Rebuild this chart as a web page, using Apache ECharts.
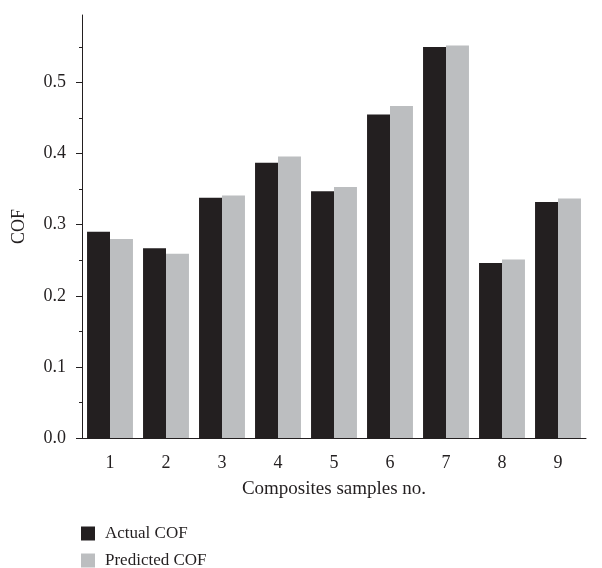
<!DOCTYPE html>
<html>
<head>
<meta charset="utf-8">
<script src="https://cdn.jsdelivr.net/npm/echarts@6/dist/echarts.min.js"></script>
<style>html,body{margin:0;padding:0;background:#fff}#c{width:602px;height:568px}</style>
</head>
<body>
<div id="c"></div>
<script>
var categories = ['1', '2', '3', '4', '5', '6', '7', '8', '9'];
var actualCOF = [0.290, 0.267, 0.338, 0.387, 0.347, 0.455, 0.550, 0.246, 0.332];
var predictedCOF = [0.280, 0.259, 0.341, 0.396, 0.353, 0.467, 0.552, 0.251, 0.337];
var yMajorTicks = [0, 0.1, 0.2, 0.3, 0.4, 0.5];
var yMinorTicks = [0.05, 0.15, 0.25, 0.35, 0.45, 0.55];
var seriesNames = ['Actual COF', 'Predicted COF'];

var ink = '#231f20';
var font = '"Liberation Serif", "DejaVu Serif", serif';
var chart = echarts.init(document.getElementById('c'), null, {renderer: 'canvas'});
function legendFor(name, top) {
  return {
    orient: 'vertical', left: 81, top: top, itemWidth: 14, itemHeight: 14, itemGap: 8,
    icon: 'rect', data: [name], padding: 0,
    textStyle: {fontFamily: font, fontSize: 17, color: ink, padding: [0, 0, 0, 5]}
  };
}
chart.setOption({
  animation: false,
  backgroundColor: '#fff',
  grid: {left: 82, right: 16, top: 15, bottom: 130, containLabel: false},
  legend: [legendFor(seriesNames[0], 525), legendFor(seriesNames[1], 552)],
  xAxis: [{
    type: 'category', data: categories, boundaryGap: true,
    name: 'Composites samples no.', nameLocation: 'middle', nameGap: 42,
    nameTextStyle: {fontFamily: font, fontSize: 19, color: ink},
    axisLine: {lineStyle: {color: ink, width: 1}},
    axisTick: {alignWithLabel: true, length: 6, lineStyle: {color: ink}},
    axisLabel: {fontFamily: font, fontSize: 18, color: ink, margin: 16}
  }, {
    type: 'category', data: categories, boundaryGap: true, position: 'bottom',
    axisLine: {show: false},
    axisTick: {length: 4, lineStyle: {color: ink}},
    axisLabel: {show: false}
  }],
  yAxis: [{
    type: 'value', min: 0, max: 0.595,
    name: 'COF', nameLocation: 'middle', nameGap: 54,
    nameTextStyle: {fontFamily: font, fontSize: 18, color: ink},
    axisLine: {show: true, lineStyle: {color: ink, width: 1}},
    axisTick: {show: true, length: 6, customValues: yMajorTicks, lineStyle: {color: ink}},
    axisLabel: {fontFamily: font, fontSize: 18, color: ink, margin: 16, customValues: yMajorTicks,
      formatter: function (v) { return v.toFixed(1); }},
    splitLine: {show: false}
  }, {
    type: 'value', min: 0, max: 0.595, position: 'left',
    axisLine: {show: false},
    axisTick: {show: true, length: 3, customValues: yMinorTicks, lineStyle: {color: ink}},
    axisLabel: {show: false, customValues: yMinorTicks},
    splitLine: {show: false}
  }],
  series: [{
    name: seriesNames[0], type: 'bar', data: actualCOF, xAxisIndex: 0, yAxisIndex: 0,
    barGap: '0%', barCategoryGap: '18%', itemStyle: {color: ink}
  }, {
    name: seriesNames[1], type: 'bar', data: predictedCOF, xAxisIndex: 0, yAxisIndex: 0,
    barGap: '0%', barCategoryGap: '18%', itemStyle: {color: '#bcbec0'}
  }]
});
</script>
</body>
</html>
